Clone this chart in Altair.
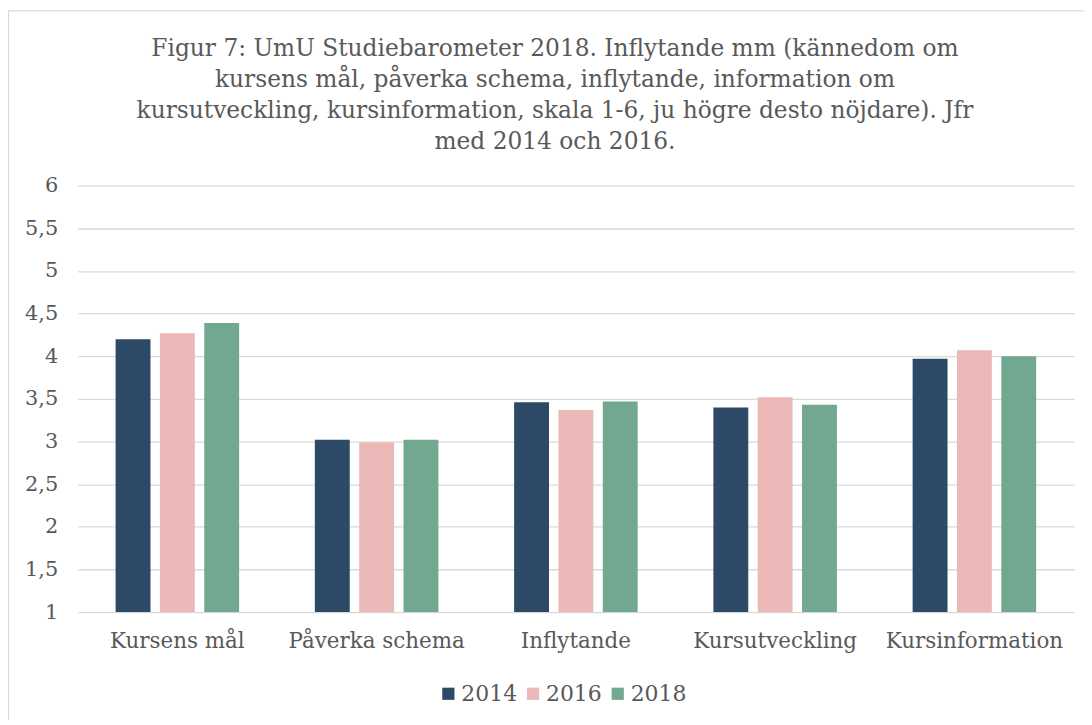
import altair as alt
import pandas as pd

categories = ["Kursens mål", "Påverka schema", "Inflytande", "Kursutveckling", "Kursinformation"]
years = ["2014", "2016", "2018"]
v2014 = [4.20, 3.02, 3.46, 3.40, 3.97]
v2016 = [4.27, 2.99, 3.37, 3.52, 4.07]
v2018 = [4.39, 3.02, 3.47, 3.43, 4.00]
colors = ["#2C4966", "#E9B8B7", "#73A890"]
title_lines = [
    "Figur 7: UmU Studiebarometer 2018. Inflytande mm (kännedom om",
    "kursens mål, påverka schema, inflytande, information om",
    "kursutveckling, kursinformation, skala 1-6, ju högre desto nöjdare). Jfr",
    "med 2014 och 2016.",
]

rows = []
for yr, vals in zip(years, [v2014, v2016, v2018]):
    for c, v in zip(categories, vals):
        rows.append({"Kategori": c, "År": yr, "Värde": v})
df = pd.DataFrame(rows)

FONT = "DejaVu Serif"
TXT = "#595959"

bars = alt.Chart(df).mark_bar().encode(
    x=alt.X("Kategori:N", sort=categories, title=None,
            scale=alt.Scale(paddingInner=0.38, paddingOuter=0.19),
            axis=alt.Axis(labelAngle=0, labelFontSize=21.5, labelFont=FONT, labelColor=TXT,
                          domain=False, ticks=False, labelPadding=19, grid=False)),
    xOffset=alt.XOffset("År:N", sort=years,
                        scale=alt.Scale(paddingInner=0.213, paddingOuter=0)),
    y=alt.Y("Värde:Q", title=None,
            scale=alt.Scale(domain=[1, 6], nice=False, zero=False),
            axis=alt.Axis(values=[1, 1.5, 2, 2.5, 3, 3.5, 4, 4.5, 5, 5.5, 6],
                          labelExpr="replace(toString(datum.value), '.', ',')",
                          labelFontSize=21, labelFont=FONT, labelColor=TXT,
                          domain=False, ticks=False, labelPadding=20,
                          grid=True, gridColor="#D9D9D9", gridWidth=1.3)),
    y2=alt.Y2(datum=1),
    color=alt.Color("År:N", sort=years,
                    scale=alt.Scale(domain=years, range=colors),
                    legend=alt.Legend(title=None, orient="none", legendX=361, legendY=499,
                                      direction="horizontal",
                                      symbolType="square", symbolSize=150, symbolStrokeWidth=0,
                                      labelFontSize=22, labelFont=FONT, labelColor=TXT,
                                      labelOffset=2, columnPadding=5)),
)

frame = alt.Chart(pd.DataFrame({"f": [0]})).mark_rect(
    fill=None, stroke="#D9D9D9", strokeWidth=1.3, clip=False
).encode(
    x=alt.value(-69.5), x2=alt.value(1040), y=alt.value(-175.5), y2=alt.value(570)
)

title_layers = []
for i, line in enumerate(title_lines):
    title_layers.append(
        alt.Chart(pd.DataFrame({"t": [line]})).mark_text(
            font=FONT, fontSize=23.4, color=TXT, align="center", baseline="alphabetic"
        ).encode(text="t:N", x=alt.value(479), y=alt.value(-130 + 31 * i))
    )

chart = alt.layer(bars, frame, *title_layers).properties(
    width=1000, height=428,
    padding={"left": 70, "top": 177, "right": 10, "bottom": 107},
    autosize=alt.AutoSizeParams(type="none"),
).configure(background="white").configure_view(strokeWidth=0, stroke="transparent")

chart.save("out.html", embed_options={"renderer": "svg", "actions": False})
